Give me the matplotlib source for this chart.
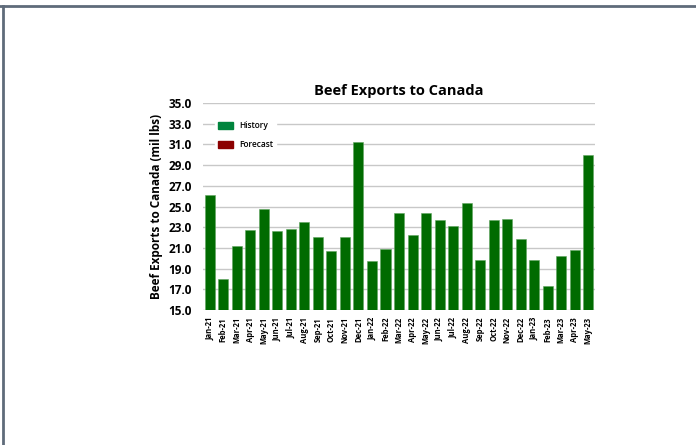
import matplotlib.pyplot as plt
from matplotlib.patches import Patch
import numpy as np

# monthly beef exports to Canada (mil lbs)
months = ["Jan-21", "Feb-21", "Mar-21", "Apr-21", "May-21", "Jun-21", "Jul-21", "Aug-21",
          "Sep-21", "Oct-21", "Nov-21", "Dec-21", "Jan-22", "Feb-22", "Mar-22", "Apr-22",
          "May-22", "Jun-22", "Jul-22", "Aug-22", "Sep-22", "Oct-22", "Nov-22", "Dec-22",
          "Jan-23", "Feb-23", "Mar-23", "Apr-23", "May-23"]
history = [26.1, 18.0, 21.2, 22.7, 24.8, 22.6, 22.8, 23.5,
           22.1, 20.7, 22.1, 31.2, 19.7, 20.9, 24.4, 22.2,
           24.4, 23.7, 23.1, 25.3, 19.8, 23.7, 23.8, 21.9,
           19.8, 17.3, 20.2, 20.8, 30.0]
yticks = [15.0, 17.0, 19.0, 21.0, 23.0, 25.0, 27.0, 29.0, 31.0, 33.0, 35.0]

plt.rcParams['font.family'] = ['Open Sans', 'DejaVu Sans']

fig = plt.figure(figsize=(6.96, 4.45), dpi=100)

# outer frame lines (top and left) like the source screenshot
fig.add_artist(plt.Line2D([0, 1], [1 - 6/445, 1 - 6/445], color='#5f6b7a', lw=2))
fig.add_artist(plt.Line2D([3/696, 3/696], [0, 1 - 6/445], color='#5f6b7a', lw=2))

ax = fig.add_axes([0.2917, 0.3034, 0.5632, 0.4651])
x = np.arange(len(months))
ax.bar(x, history, width=0.74, color='#006b00', edgecolor='#5fa55f', linewidth=0.4, zorder=3)

ax.set_ylim(15, 35)
ax.set_xlim(-0.5, len(months) - 0.5)
ax.set_yticks(yticks)
ax.set_yticklabels(["%.1f" % v for v in yticks], fontsize=8.5, fontweight='bold')
ax.set_xticks(x)
ax.set_xticklabels(months, rotation=90, fontsize=5.5, fontweight='bold')
ax.tick_params(length=0)
ax.tick_params(axis='y', pad=8)
ax.tick_params(axis='x', pad=5)
ax.grid(axis='y', color='#c8c8c8', lw=1, zorder=0)
for s in ax.spines.values():
    s.set_visible(False)

ax.set_title("Beef Exports to Canada", fontsize=10.5, fontweight='bold', pad=6)
ax.set_ylabel("Beef Exports to Canada (mil lbs)", fontsize=8.5, fontweight='bold', labelpad=4)

handles = [Patch(facecolor='#00843d', edgecolor='#00843d', label='History'),
           Patch(facecolor='#8b0000', edgecolor='#8b0000', label='Forecast')]
leg = ax.legend(handles=handles, loc='upper left', bbox_to_anchor=(0.02, 0.945), frameon=True,
                handlelength=1.8, handleheight=0.9, labelspacing=1.25,
                borderpad=0.3, handletextpad=0.8, edgecolor='white', fancybox=False,
                prop={'size': 6, 'weight': 'semibold'})
leg.get_frame().set_facecolor('white')
leg.get_frame().set_alpha(1)
leg.set_zorder(5)

fig.savefig("out.png", dpi=100)
